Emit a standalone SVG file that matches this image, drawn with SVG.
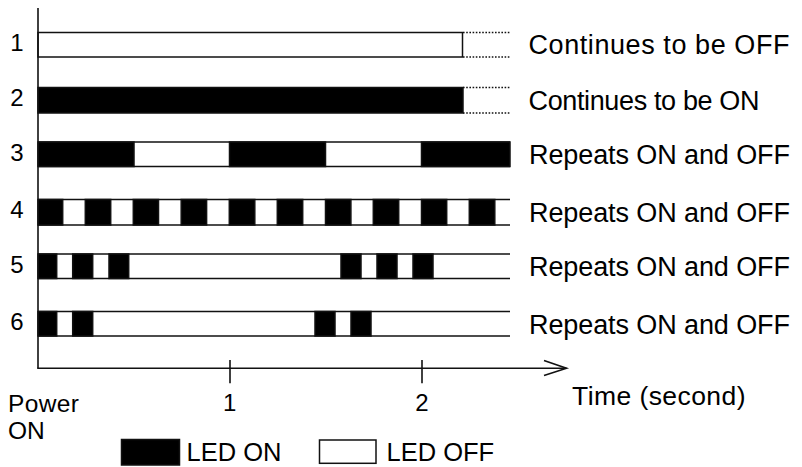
<svg xmlns="http://www.w3.org/2000/svg" width="802" height="467" viewBox="0 0 802 467">
<style>
text{font-family:"Liberation Sans",Arial,sans-serif;fill:#000}
.lbl{font-size:27px}
.num{font-size:24px;text-anchor:middle}
.ax{font-size:25.5px}
.pw{font-size:24.5px}
.on{fill:#000;stroke:#111;stroke-width:1.5}
.off{fill:#fff;stroke:#111;stroke-width:1.5}
.ln{stroke:#111;stroke-width:1.6;fill:none}
.dot{stroke:#111;stroke-width:1.6;stroke-dasharray:1.6 1.6;fill:none}
</style>
<rect width="802" height="467" fill="#fff"/>

<g id="row1">
<rect class="off" x="38" y="32.5" width="424.5" height="24.5"/>
<line class="dot" x1="463" y1="32.5" x2="510" y2="32.5"/>
<line class="dot" x1="463" y1="57" x2="510" y2="57"/>
<text class="num" x="17" y="50.5">1</text>
<text class="lbl" x="528.5" y="54" textLength="261">Continues to be OFF</text>
</g>

<g id="row2">
<rect class="on" x="38" y="87.5" width="425" height="25.5"/>
<line class="dot" x1="463" y1="87.5" x2="510" y2="87.5"/>
<line class="dot" x1="463" y1="113" x2="510" y2="113"/>
<text class="num" x="17" y="106">2</text>
<text class="lbl" x="528.5" y="109.8" textLength="231">Continues to be ON</text>
</g>

<g id="row3">
<line class="ln" x1="38" y1="142" x2="510" y2="142"/>
<line class="ln" x1="38" y1="166.5" x2="510" y2="166.5"/>
<rect class="on" x="38" y="142" width="96" height="24.5"/>
<rect class="on" x="229.5" y="142" width="96" height="24.5"/>
<rect class="on" x="421.5" y="142" width="88.5" height="24.5"/>
<text class="num" x="17" y="161">3</text>
<text class="lbl" x="529" y="164" textLength="261">Repeats ON and OFF</text>
</g>

<g id="row4">
<line class="ln" x1="38" y1="199.5" x2="510" y2="199.5"/>
<line class="ln" x1="38" y1="225" x2="510" y2="225"/>
<rect class="on" x="38" y="199.5" width="24.7" height="25.5"/>
<rect class="on" x="85.3" y="199.5" width="25.4" height="25.5"/>
<rect class="on" x="133.3" y="199.5" width="25.2" height="25.5"/>
<rect class="on" x="181.2" y="199.5" width="25.4" height="25.5"/>
<rect class="on" x="229.3" y="199.5" width="25.5" height="25.5"/>
<rect class="on" x="277.3" y="199.5" width="25.4" height="25.5"/>
<rect class="on" x="325.5" y="199.5" width="25.4" height="25.5"/>
<rect class="on" x="373.3" y="199.5" width="25.4" height="25.5"/>
<rect class="on" x="421.5" y="199.5" width="25.2" height="25.5"/>
<rect class="on" x="469.3" y="199.5" width="25.5" height="25.5"/>
<text class="num" x="17" y="218.3">4</text>
<text class="lbl" x="529" y="221.5" textLength="261">Repeats ON and OFF</text>
</g>

<g id="row5">
<line class="ln" x1="38" y1="254" x2="510" y2="254"/>
<line class="ln" x1="38" y1="278.5" x2="510" y2="278.5"/>
<rect class="on" x="38" y="254" width="18.7" height="24.5"/>
<rect class="on" x="72.7" y="254" width="20" height="24.5"/>
<rect class="on" x="109" y="254" width="19.7" height="24.5"/>
<rect class="on" x="341" y="254" width="20" height="24.5"/>
<rect class="on" x="377" y="254" width="20" height="24.5"/>
<rect class="on" x="413" y="254" width="20" height="24.5"/>
<text class="num" x="17" y="272.5">5</text>
<text class="lbl" x="529" y="275.7" textLength="261">Repeats ON and OFF</text>
</g>

<g id="row6">
<line class="ln" x1="38" y1="311.5" x2="510" y2="311.5"/>
<line class="ln" x1="38" y1="336" x2="510" y2="336"/>
<rect class="on" x="38" y="311.5" width="18.7" height="24.5"/>
<rect class="on" x="72.7" y="311.5" width="20" height="24.5"/>
<rect class="on" x="315" y="311.5" width="20" height="24.5"/>
<rect class="on" x="351" y="311.5" width="20" height="24.5"/>
<text class="num" x="17" y="330">6</text>
<text class="lbl" x="529" y="333.5" textLength="261">Repeats ON and OFF</text>
</g>

<g id="axes">
<line class="ln" x1="38" y1="8" x2="38" y2="368.3"/>
<line class="ln" x1="37.2" y1="368.3" x2="566.5" y2="368.3"/>
<polyline class="ln" points="544,360.5 566.5,368.3 544,375.5"/>
<line class="ln" x1="230" y1="360" x2="230" y2="383.3"/>
<line class="ln" x1="422" y1="360" x2="422" y2="383.3"/>
<text class="num" x="229.6" y="410.8">1</text>
<text class="num" x="421.9" y="410.8">2</text>
<text class="ax" x="572" y="404.5" style="font-size:26.5px" textLength="173.5">Time (second)</text>
<text class="pw" x="8" y="411.5" textLength="71">Power</text>
<text class="pw" x="8" y="439">ON</text>
</g>

<g id="legend">
<rect class="on" x="121.5" y="439.5" width="58" height="25.5"/>
<text class="ax" x="186.5" y="461">LED ON</text>
<rect class="off" x="319.5" y="440" width="56.5" height="23.3"/>
<text class="ax" x="386.5" y="461">LED OFF</text>
</g>
</svg>
